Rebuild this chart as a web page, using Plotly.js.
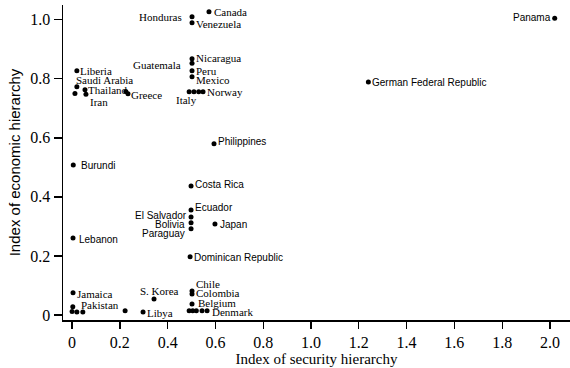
<!DOCTYPE html>
<html>
<head>
<meta charset="utf-8">
<script src="https://cdn.plot.ly/plotly-3.0.1.min.js"></script>
<style>html,body{margin:0;padding:0;background:#fff;}#chart{width:570px;height:368px;}</style>
</head>
<body>
<div id="chart"></div>
<script>
// Data
const countries = ["Canada","Honduras","Venezuela","Panama","German Federal Republic","Nicaragua","Guatemala","Peru","Mexico","Italy","","","Norway","Liberia","Saudi Arabia","","Thailand","Iran","","Greece","Philippines","Burundi","Costa Rica","Ecuador","El Salvador","Bolivia","Paraguay","Japan","Lebanon","Dominican Republic","Chile","Colombia","Jamaica","S. Korea","Pakistan","","","","","Libya","Belgium","","","","","Denmark"];
const securityIndex = [0.573,0.502,0.502,2.02,1.24,0.502,0.502,0.502,0.502,0.49,0.51,0.53,0.548,0.02,0.02,0.012,0.054,0.058,0.225,0.234,0.594,0.005,0.498,0.498,0.498,0.498,0.498,0.598,0.004,0.494,0.502,0.502,0.004,0.343,0.003,0.0,0.02,0.045,0.222,0.297,0.502,0.49,0.505,0.52,0.544,0.565];
const economicIndex = [1.027,1.010,0.990,1.005,0.789,0.868,0.853,0.827,0.807,0.756,0.756,0.756,0.756,0.827,0.773,0.750,0.763,0.748,0.757,0.749,0.580,0.508,0.437,0.356,0.332,0.312,0.292,0.308,0.261,0.197,0.081,0.071,0.075,0.054,0.028,0.012,0.010,0.010,0.014,0.010,0.037,0.014,0.014,0.014,0.014,0.014];
const xTickVals = [0,0.2,0.4,0.6,0.8,1.0,1.2,1.4,1.6,1.8,2.0];
const xTickText = ["0","0.2","0.4","0.6","0.8","1.0","1.2","1.4","1.6","1.8","2.0"];
const yTickVals = [0,0.2,0.4,0.6,0.8,1.0];
const yTickText = ["0","0.2","0.4","0.6","0.8","1.0"];

// Label placement styles: [anchor, xshift, yshift, family]
const SERIF = "Liberation Serif", SANS = "Liberation Sans";
const labelStyle = {
  "Canada":["l",4,0,SERIF],"Honduras":["r",-9,0,SERIF],"Venezuela":["l",3,-1,SERIF],
  "Panama":["r",-3,1,SANS],"German Federal Republic":["l",3,0,SANS],
  "Nicaragua":["l",3,1,SERIF],"Guatemala":["r",-10,-2,SERIF],"Peru":["l",3,0,SERIF],
  "Mexico":["l",3,-3,SERIF],"Italy":["c",-3,-8,SERIF],"Norway":["l",3,0,SERIF],
  "Liberia":["l",2,0,SERIF],"Saudi Arabia":["l",-2,7,SERIF],"Thailand":["l",2,0,SERIF],
  "Iran":["l",3,-8,SERIF],"Greece":["l",2,-1,SERIF],"Philippines":["l",3,2,SANS],
  "Burundi":["l",7,0,SANS],"Costa Rica":["l",3,1,SANS],"Ecuador":["l",3,2,SANS],
  "El Salvador":["r",-3,1,SANS],"Bolivia":["r",-5,-2,SANS],"Paraguay":["r",-5,-5,SANS],
  "Japan":["l",4,0,SANS],"Lebanon":["l",5,-2,SANS],"Dominican Republic":["l",3,-1,SANS],
  "Chile":["l",3,7,SERIF],"Colombia":["l",3,1,SERIF],"Belgium":["l",5,1,SERIF],
  "Denmark":["l",4,-1,SERIF],"Jamaica":["l",3,-1,SERIF],"Pakistan":["l",7,2,SERIF],
  "S. Korea":["c",5,8,SERIF],"Libya":["l",3,-1,SERIF]
};
const anchorMap = {l:"left", r:"right", c:"center"};

const annotations = [];
countries.forEach((name, i) => {
  if (!name) return;
  const st = labelStyle[name] || ["l",3,0,SERIF];
  annotations.push({
    x: securityIndex[i], y: economicIndex[i], xref: "x", yref: "y",
    text: name, showarrow: false, borderpad: 0,
    xanchor: anchorMap[st[0]], yanchor: "middle",
    xshift: st[1], yshift: st[2],
    font: {family: st[3], size: st[3] === SANS ? 10 : 11, color: "#000"}
  });
});

const trace = {
  x: securityIndex, y: economicIndex, type: "scatter", mode: "markers",
  marker: {color: "#000", size: 5}, hoverinfo: "skip", cliponaxis: false
};

const layout = {
  width: 570, height: 368,
  margin: {l: 63, r: 0, t: 5, b: 48},
  paper_bgcolor: "#fff", plot_bgcolor: "#fff",
  showlegend: false,
  xaxis: {
    range: [-0.038, 2.084], tickvals: xTickVals, ticktext: xTickText,
    showgrid: false, zeroline: false, showline: true, linecolor: "#000", linewidth: 1.5,
    ticks: "outside", ticklen: 7, tickwidth: 1.3, tickcolor: "#000",
    tickfont: {family: SERIF, size: 16, color: "#000"},
    title: {text: "Index of security hierarchy", font: {family: SERIF, size: 15, color: "#000"}, standoff: 4}
  },
  yaxis: {
    range: [-0.017, 1.05], tickvals: yTickVals, ticktext: yTickText,
    showgrid: false, zeroline: false, showline: true, linecolor: "#000", linewidth: 1.5,
    ticks: "outside", ticklen: 8, tickwidth: 1.3, tickcolor: "#000",
    tickfont: {family: SERIF, size: 16, color: "#000"},
    title: {text: "Index of economic hierarchy", font: {family: SANS, size: 15, color: "#000"}, standoff: 6}
  },
  annotations: annotations
};

Plotly.newPlot("chart", [trace], layout, {displayModeBar: false, staticPlot: true});
</script>
</body>
</html>
